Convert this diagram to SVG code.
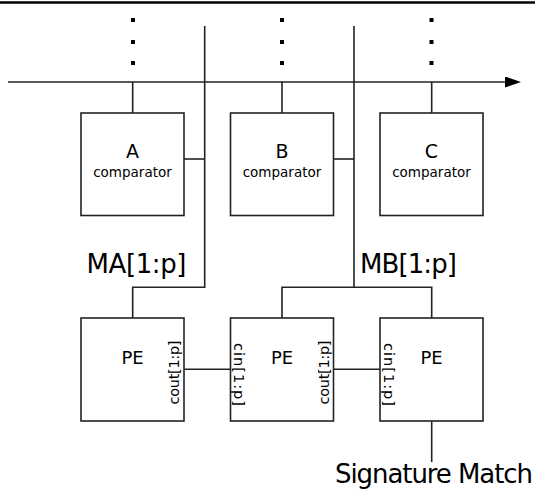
<svg xmlns="http://www.w3.org/2000/svg" width="535" height="489" viewBox="0 0 535 489">
<style>
.box{fill:#fff;stroke:#222;stroke-width:1.6}
.wire{fill:none;stroke:#222;stroke-width:1.6}
.t{font-family:"DejaVu Sans",Verdana,sans-serif;fill:#000}
.big{font-size:19px;text-anchor:middle}
.small{font-size:13.5px;text-anchor:middle}
.pe{font-size:18px;text-anchor:middle}
.rot{font-size:14.5px;text-anchor:middle}
.bus{font-size:26px}
.dot{fill:#000}
</style>
<defs>
<marker id="arr" markerUnits="userSpaceOnUse" viewBox="0 0 16 11" refX="0" refY="5.5" markerWidth="16" markerHeight="11" orient="auto">
<path d="M0,0 L16,5.5 L0,11 Z" fill="#000"/>
</marker>
</defs>
<line x1="0" y1="2.5" x2="535" y2="2.5" stroke="#000" stroke-width="2.6"/>
<g id="dots">
<rect class="dot" x="131" y="18" width="4" height="4"/>
<rect class="dot" x="131" y="40" width="4" height="4"/>
<rect class="dot" x="131" y="61" width="4" height="4"/>
<rect class="dot" x="280" y="18" width="4" height="4"/>
<rect class="dot" x="280" y="40" width="4" height="4"/>
<rect class="dot" x="280" y="61" width="4" height="4"/>
<rect class="dot" x="429.5" y="18" width="4" height="4"/>
<rect class="dot" x="429.5" y="40" width="4" height="4"/>
<rect class="dot" x="429.5" y="61" width="4" height="4"/>
</g>
<g id="connectors">
<line class="wire" x1="8" y1="82" x2="505" y2="82" marker-end="url(#arr)"/>
<line class="wire" x1="132.7" y1="82" x2="132.7" y2="113"/>
<line class="wire" x1="282" y1="82" x2="282" y2="113"/>
<line class="wire" x1="431.7" y1="82" x2="431.7" y2="113"/>
<polyline class="wire" points="204.7,26 204.7,287.3 132.7,287.3 132.7,318"/>
<line class="wire" x1="184" y1="159" x2="204.7" y2="159"/>
<line class="wire" x1="354" y1="26" x2="354" y2="287.3"/>
<polyline class="wire" points="282,318 282,287.3 431.7,287.3 431.7,318"/>
<line class="wire" x1="334" y1="159" x2="354" y2="159"/>
<line class="wire" x1="184" y1="369.3" x2="230.5" y2="369.3"/>
<line class="wire" x1="334" y1="369.3" x2="380" y2="369.3"/>
<line class="wire" x1="431.7" y1="421" x2="431.7" y2="462"/>
</g>
<g id="compA">
<rect class="box" x="81" y="113" width="103" height="102.5"/>
<text class="t big" x="132.5" y="157.5">A</text>
<text class="t small" x="132.5" y="177">comparator</text>
</g>
<g id="compB">
<rect class="box" x="230.5" y="113" width="103" height="102.5"/>
<text class="t big" x="282" y="157.5">B</text>
<text class="t small" x="282" y="177">comparator</text>
</g>
<g id="compC">
<rect class="box" x="380" y="113" width="103" height="102.5"/>
<text class="t big" x="431.5" y="157.5">C</text>
<text class="t small" x="431.5" y="177">comparator</text>
</g>
<g id="peA">
<rect class="box" x="81" y="318" width="103" height="103"/>
<text class="t pe" x="132.5" y="364">PE</text>
<text class="t rot" transform="translate(179,372.5) rotate(-90)" textLength="64" lengthAdjust="spacing">cout[1:p]</text>
</g>
<g id="peB">
<rect class="box" x="230.5" y="318" width="103" height="103"/>
<text class="t pe" x="282" y="364">PE</text>
<text class="t rot" transform="translate(233.5,374.5) rotate(90)" textLength="63" lengthAdjust="spacing">cin[1:p]</text>
<text class="t rot" transform="translate(329,372.5) rotate(-90)" textLength="64" lengthAdjust="spacing">cout[1:p]</text>
</g>
<g id="peC">
<rect class="box" x="380" y="318" width="103" height="103"/>
<text class="t pe" x="431.5" y="364">PE</text>
<text class="t rot" transform="translate(383.5,374.5) rotate(90)" textLength="63" lengthAdjust="spacing">cin[1:p]</text>
</g>
<g id="labels">
<text class="t bus" x="86.5" y="272.5" textLength="100" lengthAdjust="spacing">MA[1:p]</text>
<text class="t bus" x="360" y="272.5" textLength="97" lengthAdjust="spacing">MB[1:p]</text>
<text class="t bus" x="335" y="483" textLength="198" lengthAdjust="spacing">Signature Match</text>
</g>
</svg>
